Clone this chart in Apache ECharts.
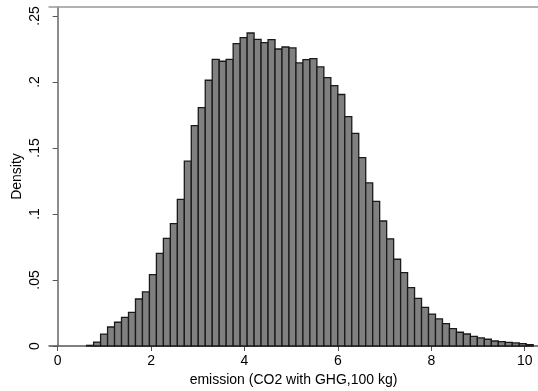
<!DOCTYPE html>
<html>
<head>
<meta charset="utf-8">
<script src="https://cdn.jsdelivr.net/npm/echarts@6/dist/echarts.min.js"></script>
<style>
  html, body { margin: 0; padding: 0; background: #fff; }
  #chart { width: 538px; height: 391px; }
</style>
</head>
<body>
<div id="chart"></div>
<script>
// histogram bins: 64 equal-width bins
const binStart = 0.62
const binWidth = 0.1494
const density = [
  0.0005, 0.0030, 0.0090, 0.0144, 0.0180, 0.0217, 0.0255, 0.0356,
  0.0410, 0.0540, 0.0702, 0.0816, 0.0927, 0.1110, 0.1400, 0.1670,
  0.1806, 0.2013, 0.2172, 0.2157, 0.2172, 0.2291, 0.2336, 0.2371,
  0.2323, 0.2298, 0.2321, 0.2250, 0.2265, 0.2258, 0.2144, 0.2170,
  0.2177, 0.2114, 0.2033, 0.1973, 0.1905, 0.1738, 0.1610, 0.1427,
  0.1235, 0.1096, 0.0947, 0.0812, 0.0657, 0.0556, 0.0442, 0.0361,
  0.0293, 0.0242, 0.0205, 0.0170, 0.0132, 0.0104, 0.0091, 0.0073,
  0.0061, 0.0051, 0.0038, 0.0033, 0.0028, 0.0023, 0.0018, 0.0010
]
const xTicks = [0, 2, 4, 6, 8, 10]
const yTicks = [0, 0.05, 0.1, 0.15, 0.2, 0.25]

const bins = density.map((d, i) => [binStart + i * binWidth, binStart + (i + 1) * binWidth, d])

const font = "Liberation Sans, Arial, sans-serif"
const chart = echarts.init(document.getElementById("chart"))

chart.setOption({
  animation: false,
  grid: { left: 49, right: 0, top: 7, bottom: 45, outerBoundsMode: "none", containLabel: false },
  xAxis: [
    {
      type: "value",
      min: -0.186,
      max: 10.285,
      name: "emission (CO2 with GHG,100 kg)",
      nameLocation: "middle",
      nameGap: 21,
      nameTextStyle: { fontFamily: font, fontSize: 14, color: "#000" },
      axisLine: { show: true, lineStyle: { color: "#555", width: 1.5 } },
      axisTick: { show: true, length: 5, customValues: xTicks, lineStyle: { color: "#555" } },
      axisLabel: { customValues: xTicks, margin: 8, fontFamily: font, fontSize: 14, color: "#000" },
      splitLine: { show: false }
    },
    {
      type: "value",
      position: "top",
      min: -0.186,
      max: 10.285,
      axisLine: { show: true, lineStyle: { color: "#999", width: 1.5 } },
      axisTick: { show: false },
      axisLabel: { show: false },
      splitLine: { show: false }
    }
  ],
  yAxis: {
    type: "value",
    min: 0,
    max: 0.2568,
    name: "Density",
    nameLocation: "middle",
    nameGap: 25,
    nameMoveOverlap: false,
    nameRotate: 90,
    nameTextStyle: { fontFamily: font, fontSize: 14, color: "#000" },
    axisLine: { show: true, lineStyle: { color: "#666", width: 1.5 } },
    axisTick: { show: true, length: 5, customValues: yTicks, lineStyle: { color: "#555" } },
    axisLabel: {
      customValues: yTicks,
      rotate: 90,
      margin: 7,
      fontFamily: font,
      fontSize: 14,
      color: "#000",
      formatter: v => (v === 0 ? "0" : String(+v.toFixed(2)).replace(/^0/, ""))
    },
    splitLine: { show: false }
  },
  series: [
    {
      type: "custom",
      xAxisIndex: 0,
      encode: { x: [0, 1], y: 2 },
      data: bins,
      renderItem: (params, api) => {
        const p0 = api.coord([api.value(0), api.value(2)])
        const p1 = api.coord([api.value(1), 0])
        return {
          type: "rect",
          shape: { x: p0[0], y: p0[1], width: p1[0] - p0[0], height: p1[1] - p0[1] },
          style: { fill: "#808080", stroke: "#1a1a1a", lineWidth: 1.3 }
        }
      }
    }
  ]
})
</script>
</body>
</html>
